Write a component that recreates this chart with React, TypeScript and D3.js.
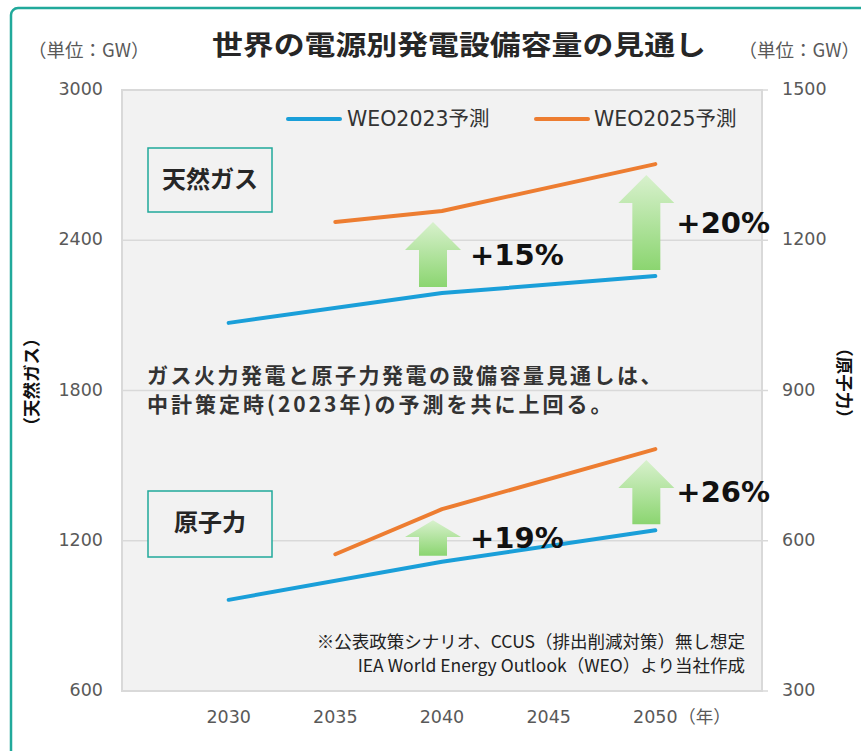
import React from "react";
import * as d3 from "d3";

// WEO forecasts, GW
const gas2023 = [
  { year: 2030, value: 2070 },
  { year: 2040, value: 2189 },
  { year: 2050, value: 2257 },
];
const gas2025 = [
  { year: 2035, value: 2473 },
  { year: 2040, value: 2517 },
  { year: 2050, value: 2704 },
];
const nuc2023 = [
  { year: 2030, value: 482 },
  { year: 2040, value: 558 },
  { year: 2050, value: 621 },
];
const nuc2025 = [
  { year: 2035, value: 573 },
  { year: 2040, value: 663 },
  { year: 2050, value: 783 },
];

const xTicks = [2030, 2035, 2040, 2045, 2050];
const leftTicks = [600, 1200, 1800, 2400, 3000];
const rightTicks = [300, 600, 900, 1200, 1500];

const gasGains = [
  { year: 2040, from: 2189, to: 2517, label: "+15%" },
  { year: 2050, from: 2257, to: 2704, label: "+20%" },
];
const nucGains = [
  { year: 2040, from: 558, to: 663, label: "+19%" },
  { year: 2050, from: 621, to: 783, label: "+26%" },
];

const BLUE = "#1a9fd9";
const ORANGE = "#ed7d31";
const TEAL = "#21a99b";
const GRID = "#d9d9d9";
const TICK = "#595959";
const JP = "'Noto Sans CJK JP', sans-serif";
const MIX = "'DejaVu Sans', 'Noto Sans CJK JP', sans-serif";

const W = 861;
const H = 751;
const plot = { left: 122, right: 762, top: 90, bottom: 691 };

const App = () => {
  const x = d3.scaleLinear().domain([2025, 2055]).range([plot.left, plot.right]);
  const yL = d3.scaleLinear().domain([600, 3000]).range([plot.bottom, plot.top]);
  const yR = d3.scaleLinear().domain([300, 1500]).range([plot.bottom, plot.top]);

  const lineL = d3
    .line<{ year: number; value: number }>()
    .x((d) => x(d.year))
    .y((d) => yL(d.value));
  const lineR = d3
    .line<{ year: number; value: number }>()
    .x((d) => x(d.year))
    .y((d) => yR(d.value));

  // green up arrow between the two forecasts
  const arrow = (g, y, key) => {
    const cx = x(g.year) - 9;
    const bottom = y(g.from) - 6;
    const top = y(g.to) + 11;
    const h = bottom - top;
    const head = Math.min(28, h * 0.47);
    const p = d3.path();
    p.moveTo(cx, top);
    p.lineTo(cx + 28, top + head);
    p.lineTo(cx + 14, top + head);
    p.lineTo(cx + 14, bottom);
    p.lineTo(cx - 14, bottom);
    p.lineTo(cx - 14, top + head);
    p.lineTo(cx - 28, top + head);
    p.closePath();
    const dx = g.year === 2040 ? 37 : 30;
    return (
      <g key={key}>
        <path d={p.toString()} fill="url(#upGrad)" />
        <text
          x={cx + dx}
          y={(top + bottom) / 2 + 2}
          dominantBaseline="middle"
          fontFamily={MIX}
          fontWeight="bold"
          fontSize={29}
          fill="#111"
        >
          {g.label}
        </text>
      </g>
    );
  };

  return (
    <svg
      width={W}
      height={H}
      style={{ position: "absolute", left: 0, top: 0, background: "#fff" }}
    >
      <defs>
        <linearGradient id="upGrad" x1="0" y1="0" x2="0" y2="1">
          <stop offset="0%" stopColor="#d8f1cd" />
          <stop offset="100%" stopColor="#8bd570" />
        </linearGradient>
      </defs>

      {/* outer frame */}
      <rect x={11} y={8} width={900} height={800} rx={7} fill="none" stroke={TEAL} strokeWidth={2.5} />

      {/* title + units */}
      <text x={459} y={48} textAnchor="middle" dominantBaseline="middle" fontFamily={JP} fontWeight="bold" fontSize={27} fill="#262626" textLength={494} lengthAdjust="spacingAndGlyphs">
        世界の電源別発電設備容量の見通し
      </text>
      <text x={28} y={52} dominantBaseline="middle" fontFamily={JP} fontSize={18.5} fill={TICK}>
        （単位：GW）
      </text>
      <text x={860} y={52} textAnchor="end" dominantBaseline="middle" fontFamily={JP} fontSize={18.5} fill={TICK}>
        （単位：GW）
      </text>

      {/* plot area */}
      <rect x={plot.left} y={plot.top} width={plot.right - plot.left} height={plot.bottom - plot.top} fill="#f2f2f2" />
      {leftTicks.slice(1, -1).map((t) => (
        <line key={t} x1={plot.left} x2={plot.right} y1={yL(t)} y2={yL(t)} stroke={GRID} strokeWidth={1.5} />
      ))}
      {rightTicks.map((t) => (
        <line key={"rt" + t} x1={plot.right} x2={plot.right + 6} y1={yR(t)} y2={yR(t)} stroke={GRID} strokeWidth={1.5} />
      ))}
      <rect x={plot.left} y={plot.top} width={plot.right - plot.left} height={plot.bottom - plot.top} fill="none" stroke={GRID} strokeWidth={2} />

      {/* axis labels */}
      {leftTicks.map((t) => (
        <text key={"l" + t} x={103} y={yL(t)} textAnchor="end" dominantBaseline="middle" fontFamily={MIX} fontSize={17.5} fill={TICK}>
          {t}
        </text>
      ))}
      {rightTicks.map((t) => (
        <text key={"r" + t} x={782} y={yR(t)} dominantBaseline="middle" fontFamily={MIX} fontSize={17.5} fill={TICK}>
          {t}
        </text>
      ))}
      {xTicks.map((t) => (
        <text key={"x" + t} x={x(t)} y={718} textAnchor="middle" dominantBaseline="middle" fontFamily={MIX} fontSize={17.5} fill={TICK}>
          {t}
        </text>
      ))}
      <text x={x(2050) + 23} y={718} dominantBaseline="middle" fontFamily={JP} fontSize={17.5} fill={TICK}>
        （年）
      </text>
      <text transform={`translate(33,382) rotate(-90)`} textAnchor="middle" dominantBaseline="middle" fontFamily={JP} fontWeight="bold" fontSize={17.5} fill="#111">
        （天然ガス）
      </text>
      <text transform={`translate(843,383) rotate(90)`} textAnchor="middle" dominantBaseline="middle" fontFamily={JP} fontWeight="bold" fontSize={17.5} fill="#111">
        （原子力）
      </text>

      {/* legend */}
      <line x1={288} x2={340} y1={119} y2={119} stroke={BLUE} strokeWidth={4} strokeLinecap="round" />
      <text x={347} y={120} dominantBaseline="middle" fontFamily={MIX} fontSize={20.5} fill="#333">
        WEO2023予測
      </text>
      <line x1={536} x2={588} y1={119} y2={119} stroke={ORANGE} strokeWidth={4} strokeLinecap="round" />
      <text x={594} y={120} dominantBaseline="middle" fontFamily={MIX} fontSize={20.5} fill="#333">
        WEO2025予測
      </text>

      {/* category boxes */}
      <rect x={148} y={148} width={124} height={64} fill="#f2f2f2" stroke={TEAL} strokeWidth={1.5} />
      <text x={210} y={181} textAnchor="middle" dominantBaseline="middle" fontFamily={JP} fontWeight="bold" fontSize={24} fill="#262626">
        天然ガス
      </text>
      <rect x={148} y={491} width={124} height={66} fill="#f2f2f2" stroke={TEAL} strokeWidth={1.5} />
      <text x={210} y={524} textAnchor="middle" dominantBaseline="middle" fontFamily={JP} fontWeight="bold" fontSize={24} fill="#262626">
        原子力
      </text>

      {/* series */}
      <path d={lineL(gas2023)} fill="none" stroke={BLUE} strokeWidth={4} strokeLinecap="round" strokeLinejoin="round" />
      <path d={lineL(gas2025)} fill="none" stroke={ORANGE} strokeWidth={4} strokeLinecap="round" strokeLinejoin="round" />
      <path d={lineR(nuc2023)} fill="none" stroke={BLUE} strokeWidth={4} strokeLinecap="round" strokeLinejoin="round" />
      <path d={lineR(nuc2025)} fill="none" stroke={ORANGE} strokeWidth={4} strokeLinecap="round" strokeLinejoin="round" />

      {gasGains.map((g, i) => arrow(g, yL, "g" + i))}
      {nucGains.map((g, i) => arrow(g, yR, "n" + i))}

      {/* message */}
      <text x={147} y={377} dominantBaseline="middle" fontFamily={JP} fontWeight="bold" fontSize={21} letterSpacing={2.5} fill="#333">
        ガス火力発電と原子力発電の設備容量見通しは、
      </text>
      <text x={147} y={406} dominantBaseline="middle" fontFamily={JP} fontWeight="bold" fontSize={21} letterSpacing={3} fill="#333">
        中計策定時(2023年)の予測を共に上回る。
      </text>

      {/* footnote */}
      <text x={745} y={643} textAnchor="end" dominantBaseline="middle" fontFamily={JP} fontSize={17.5} fill="#222">
        ※公表政策シナリオ、CCUS（排出削減対策）無し想定
      </text>
      <text x={745} y={667} textAnchor="end" dominantBaseline="middle" fontFamily={JP} fontSize={17.5} fill="#222">
        IEA World Energy Outlook（WEO）より当社作成
      </text>
    </svg>
  );
};

export default App;
